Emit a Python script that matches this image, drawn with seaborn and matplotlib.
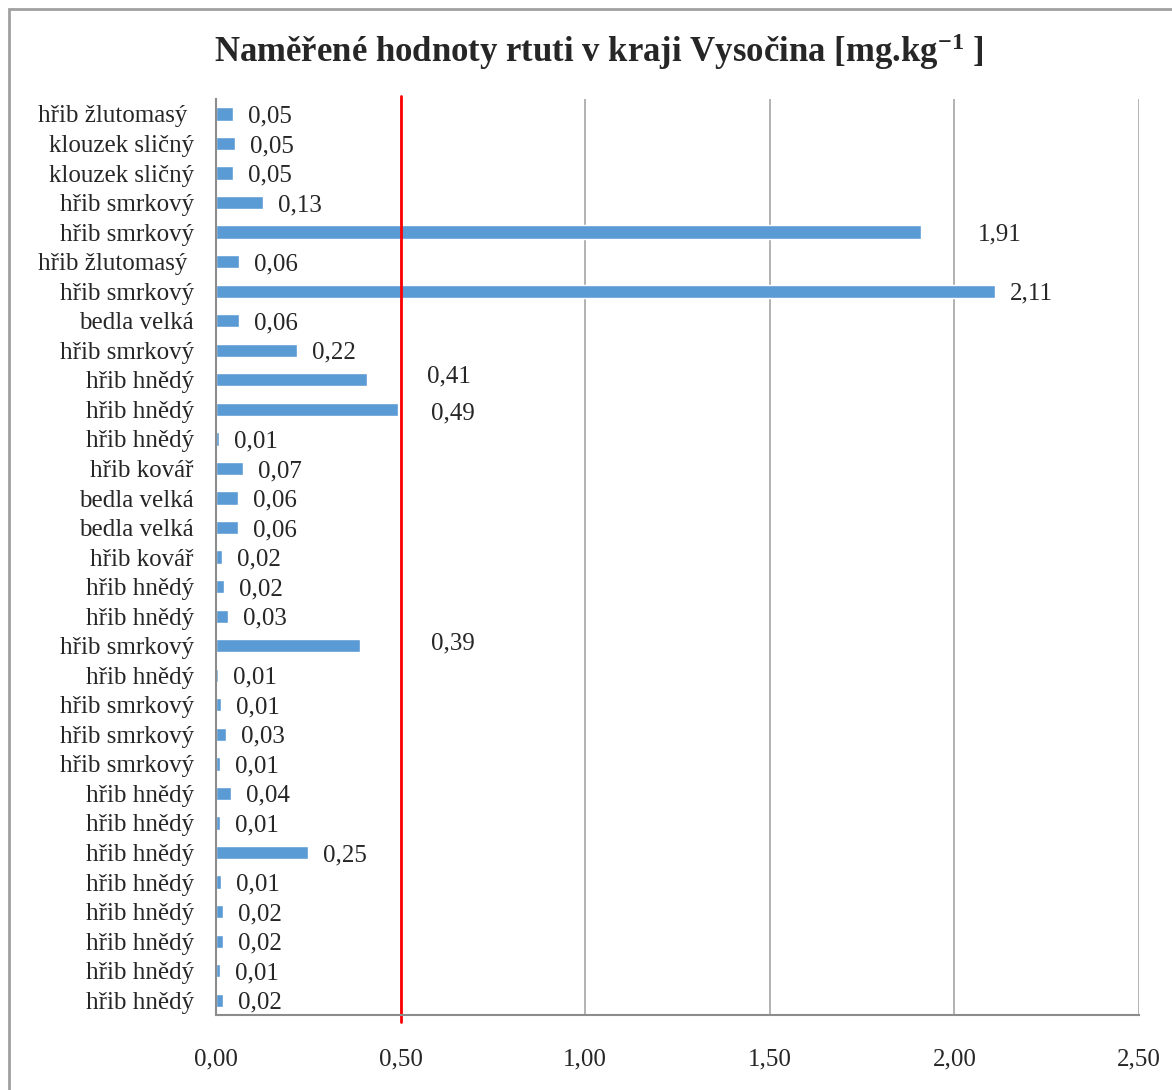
import numpy as np
import pandas as pd
import seaborn as sns
import matplotlib.pyplot as plt
from matplotlib.patches import Rectangle
from matplotlib.ticker import FixedLocator


# --- Data (top to bottom as in the chart) ---
species = [
    "hřib žlutomasý ", "klouzek sličný", "klouzek sličný", "hřib smrkový",
    "hřib smrkový", "hřib žlutomasý ", "hřib smrkový", "bedla velká",
    "hřib smrkový", "hřib hnědý", "hřib hnědý", "hřib hnědý",
    "hřib kovář", "bedla velká", "bedla velká", "hřib kovář",
    "hřib hnědý", "hřib hnědý", "hřib smrkový", "hřib hnědý",
    "hřib smrkový", "hřib smrkový", "hřib smrkový", "hřib hnědý",
    "hřib hnědý", "hřib hnědý", "hřib hnědý", "hřib hnědý",
    "hřib hnědý", "hřib hnědý", "hřib hnědý",
]
mercury = [
    0.047, 0.051, 0.047, 0.127, 1.91, 0.063, 2.11, 0.063,
    0.22, 0.41, 0.493, 0.008, 0.073, 0.059, 0.059, 0.017,
    0.021, 0.032, 0.39, 0.006, 0.013, 0.026, 0.012, 0.041,
    0.012, 0.25, 0.013, 0.018, 0.019, 0.011, 0.019,
]
limit = 0.50
x_ticks = [0.0, 0.5, 1.0, 1.5, 2.0, 2.5]

df = pd.DataFrame({"sample": [str(i) for i in range(len(species))],
                   "species": species, "Hg": mercury})

# --- Graph ---
sns.set_theme(style="white")
plt.rcParams["font.family"] = ["Liberation Serif", "DejaVu Serif"]
plt.rcParams["mathtext.default"] = "regular"

fig = plt.figure(figsize=(11.72, 10.9), dpi=100)
ax = fig.add_axes([0.1843, 0.0688, 0.9718 - 0.1843, 0.909 - 0.0688])

sns.barplot(data=df, x="Hg", y="sample", orient="h", color="#5B9BD5",
            saturation=1, width=0.45, ax=ax)

ax.set_xlim(0, 2.5)
ax.set_ylim(len(species) - 0.5, -0.5)
ax.set_xticks(x_ticks)
ax.set_xticklabels([f"{t:.2f}".replace(".", ",") for t in x_ticks], fontsize=18)
ax.set_yticks(range(len(species)))
ax.set_yticklabels(species, fontsize=18)
ax.yaxis.set_minor_locator(FixedLocator(np.arange(-0.5, len(species), 1)))
ax.tick_params(axis="y", which="major", length=0, pad=16)
ax.tick_params(axis="y", which="minor", length=8, color="#8C8C8C", width=1.2)
ax.tick_params(axis="x", length=7, color="#8C8C8C", width=1.2, pad=17)
ax.set_xlabel("")
ax.set_ylabel("")

ax.grid(axis="x", color="#A6A6A6", linewidth=1.2)
ax.set_axisbelow(True)
for side in ["top", "right"]:
    ax.spines[side].set_visible(False)
for side in ["left", "bottom"]:
    ax.spines[side].set_color("#8C8C8C")
    ax.spines[side].set_linewidth(1.5)

ax.axvline(limit, ymin=-0.008, ymax=1.003, color="#FF0000", linewidth=2, clip_on=False)

# value labels; a few were dragged by hand in the original (pixels)
nudge = {4: (57, 0), 9: (60, -6), 10: (33, 2), 18: (71, -5)}
for i, v in enumerate(mercury):
    dx, dy = nudge.get(i, (15, 0))
    ax.annotate(f"{v:.2f}".replace(".", ","), (v, i),
                xytext=(dx * 0.72, -dy * 0.72), textcoords="offset points",
                ha="left", va="center_baseline", fontsize=18)

fig.text(0.511, 0.953, "Naměřené hodnoty rtuti v kraji Vysočina [mg.kg$^{-1}$ ]",
         ha="center", va="center", fontsize=25, fontweight="bold")

fig.add_artist(Rectangle((9 / 1172, -0.05), 1.2, 1.05 - 9 / 1090,
                         transform=fig.transFigure, fill=False,
                         edgecolor="#A0A0A0", linewidth=2, clip_on=False))

plt.savefig("out.png", dpi=100)
